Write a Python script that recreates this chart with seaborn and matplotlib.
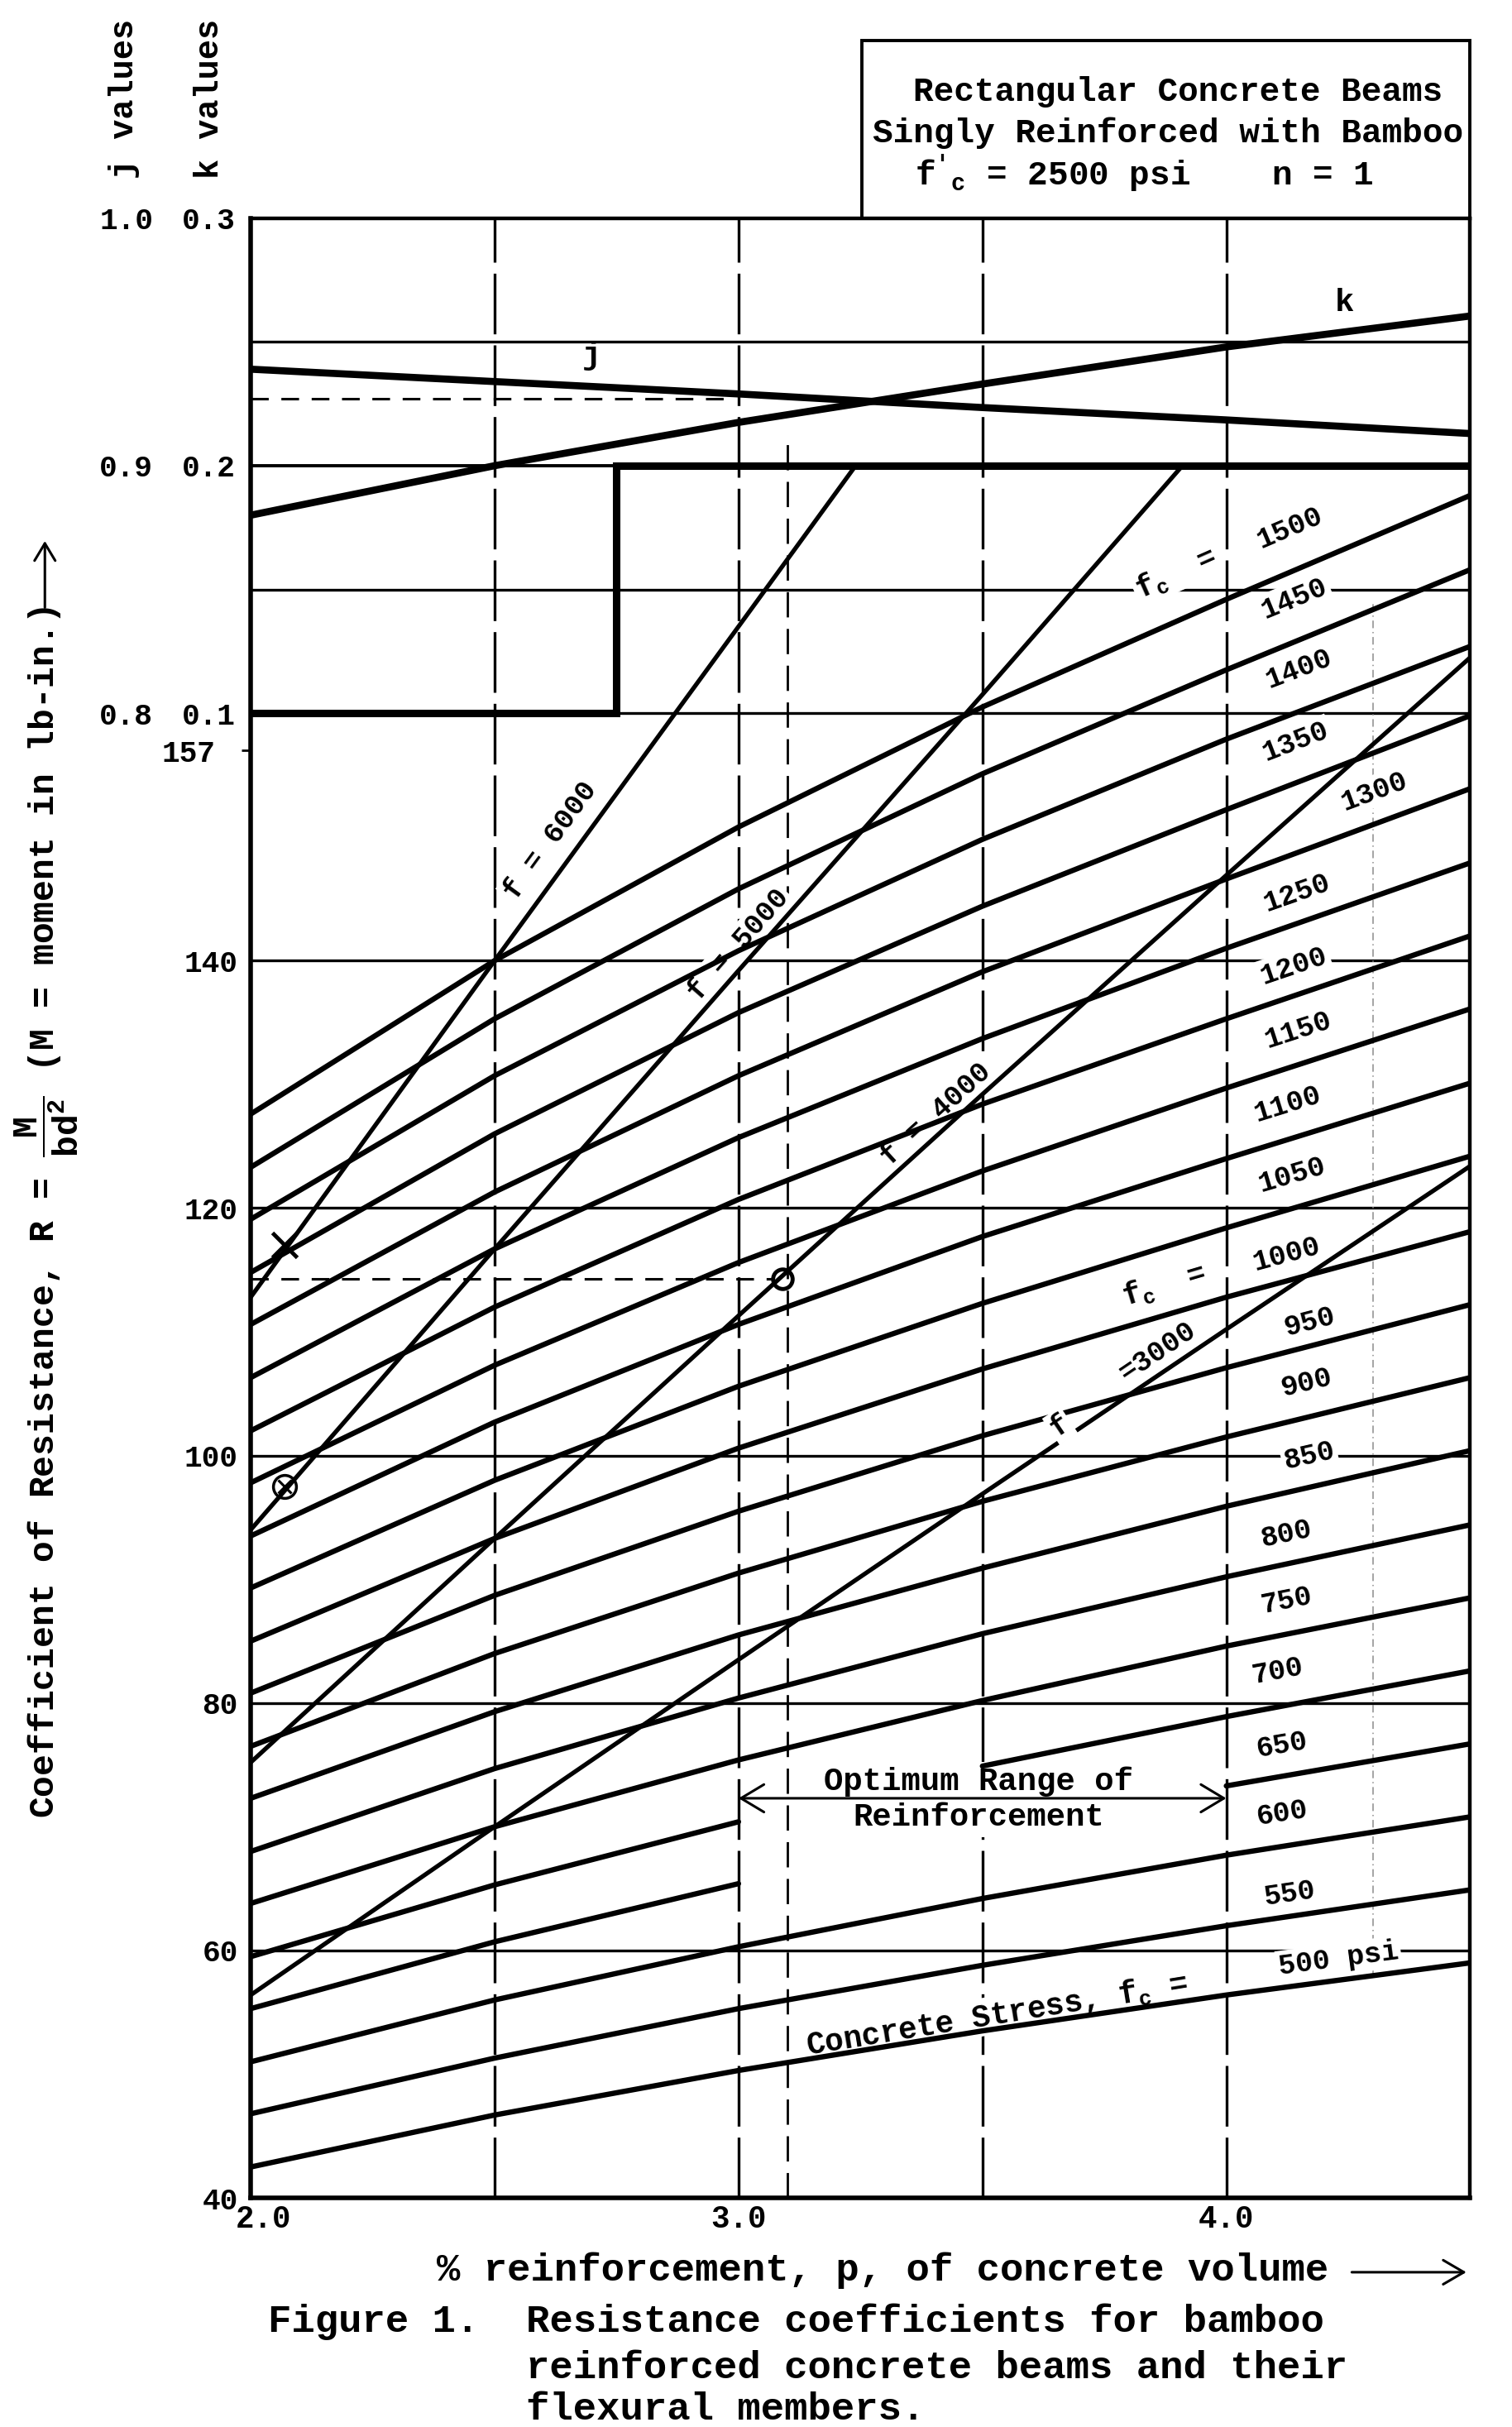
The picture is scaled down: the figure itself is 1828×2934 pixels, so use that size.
import numpy as np
import pandas as pd
import matplotlib
matplotlib.use("Agg")
import matplotlib.pyplot as plt
import matplotlib.transforms as mtransforms
from matplotlib.patches import Rectangle, FancyArrowPatch
import seaborn as sns

sns.set_theme(style="white")
plt.rcParams["font.family"] = ["Liberation Mono", "DejaVu Sans"]
plt.rcParams.update({
    "font.weight": "bold",
    "mathtext.fontset": "custom",
    "mathtext.rm": "Liberation Mono:bold",
    "mathtext.it": "Liberation Mono:bold:italic",
    "mathtext.bf": "Liberation Mono:bold",
    "mathtext.fallback": "stix",
    "text.color": "black", "axes.edgecolor": "black",
    "xtick.color": "black", "ytick.color": "black",
})

# ---------------- values ----------------
p_pts = [2.0, 2.5, 3.0, 3.5, 4.0, 4.5]            # % reinforcement

fc_levels = [500, 550, 600, 650, 700, 750, 800, 850, 900, 950, 1000,
             1050, 1100, 1150, 1200, 1250, 1300, 1350, 1400, 1450, 1500]
R_fc = [
    [42.5, 46.7, 50.3, 53.5, 56.4, 59.0],
    [46.8, 51.3, 55.3, 58.8, 62.0, 64.9],
    [51.0, 56.0, 60.3, 64.2, 67.7, 70.8],
    [55.3, 60.7, 65.4, 69.5, 73.3, 76.7],
    [59.5, 65.3, 70.4, 74.9, 78.9, 82.6],
    [63.8, 70.0, 75.4, 80.2, 84.6, 88.5],
    [68.0, 74.7, 80.4, 85.6, 90.2, 94.4],
    [72.3, 79.3, 85.5, 90.9, 95.9, 100.4],
    [76.5, 84.0, 90.5, 96.3, 101.5, 106.3],
    [80.8, 88.7, 95.5, 101.6, 107.1, 112.2],
    [85.0, 93.3, 100.6, 107.0, 112.8, 118.1],
    [89.3, 98.0, 105.6, 112.3, 118.4, 124.2],
    [93.5, 102.7, 110.6, 117.7, 124.0, 130.1],
    [97.8, 107.3, 115.6, 123.0, 129.7, 136.1],
    [102.0, 112.0, 120.7, 128.4, 135.3, 142.0],
    [106.3, 116.7, 125.7, 133.7, 141.0, 147.9],
    [110.6, 121.3, 130.7, 139.1, 146.6, 153.9],
    [114.8, 126.0, 135.8, 144.4, 152.2, 159.8],
    [119.1, 130.7, 140.8, 149.8, 157.9, 165.4],
    [123.3, 135.3, 145.8, 155.1, 163.5, 171.6],
    [127.6, 140.0, 150.8, 160.5, 169.2, 177.6],
]
# stretches of a curve left undrawn behind the "Optimum Range" note
fc_gaps = {650: (3.0, 4.0), 700: (3.0, 3.5)}

# bamboo stress lines f = 6000 ... 3000 psi
p_fs6000 = [2.0, 2.5, 3.0, 3.24]
R_fs6000 = [112.8, 140.0, 167.0, 180.0]
p_fs5000 = [2.0, 2.5, 3.0, 3.5, 3.91]
R_fs5000 = [94.0, 116.7, 139.2, 161.5, 180.0]
p_fs4000 = p_pts
R_fs4000 = [75.2, 93.3, 111.3, 129.2, 146.9, 164.5]
p_fs3000 = p_pts
R_fs3000 = [56.4, 70.0, 83.5, 96.9, 110.2, 123.4]

# k and j values
k_vals = [0.180, 0.200, 0.2175, 0.233, 0.248, 0.2605]
j_vals = [0.939, 0.934, 0.929, 0.9235, 0.9185, 0.913]

# hand-made marks on the chart
mark_x_p, mark_x_R = [2.07], [117.0]
mark_ox_p, mark_ox_R = [2.07], [97.5]
mark_o_p, mark_o_R = [3.09], [114.3]
read_R_p, read_R_val = [2.0, 3.07], [114.3, 114.3]
read_j_p, read_j_val = [2.0, 2.97], [185.4, 185.4]

R_ticks = [40, 60, 80, 100, 120, 140]
j_ticks = [0.8, 0.9, 1.0]
k_ticks = [0.1, 0.2, 0.3]
x_ticks = [2.0, 3.0, 4.0]

# ---------------- figure ----------------
fig = plt.figure(figsize=(18.28, 29.34), dpi=100)
fig.patch.set_facecolor("white")
L, R_ = 162 / 977, 950 / 977
B, T = 1 - 1420 / 1568, 1 - 141 / 1568
ax = fig.add_axes([L, B, R_ - L, T - B])
ax.set_facecolor("white")

GRID_LW = 2.4
# grid
ax.hlines([60, 80, 100, 120, 140, 170, 190], 2.0, 4.5, color="black", lw=GRID_LW, zorder=1)
ax.hlines([160], 2.75, 4.5, color="black", lw=GRID_LW, zorder=1)
ax.hlines([180], 2.0, 2.75, color="black", lw=2.8, zorder=1)
ax.plot([2.0, 2.75, 2.75, 4.5], [160, 160, 180, 180], color="black", lw=6.5,
        solid_joinstyle="miter", solid_capstyle="butt", zorder=1.5)
ax.vlines([2.5, 3.0, 3.5, 4.0], 40, 200, color="black", lw=GRID_LW,
          linestyles=[(0, (22, 4))], zorder=1)
ax.vlines([3.1], 40, 182.5, color="black", lw=2.0, linestyles=[(0, (11, 5))], zorder=1)
ax.vlines([4.3], 58, 169, color="0.55", lw=1.1, linestyles=[(0, (6, 3, 1, 3))], zorder=1)

# concrete stress curves
rows = []
for lvl, vals in zip(fc_levels, R_fc):
    gap = fc_gaps.get(lvl)
    for p, r in zip(p_pts, vals):
        seg = 0
        if gap is not None:
            if gap[0] < p < gap[1]:
                continue
            seg = 1 if p >= gap[1] else 0
        rows.append({"fc": lvl, "seg": f"{lvl}-{seg}", "p": p, "R": r})
df_fc = pd.DataFrame(rows)
sns.lineplot(data=df_fc, x="p", y="R", units="seg", estimator=None, color="black",
             linewidth=4.6, ax=ax, zorder=3, legend=False)

# bamboo stress lines
fs_rows = []
for name, ps, rs in [("6000", p_fs6000, R_fs6000), ("5000", p_fs5000, R_fs5000),
                     ("4000", p_fs4000, R_fs4000), ("3000", p_fs3000, R_fs3000)]:
    for p, r in zip(ps, rs):
        fs_rows.append({"fs": name, "p": p, "R": r})
df_fs = pd.DataFrame(fs_rows)
sns.lineplot(data=df_fs, x="p", y="R", units="fs", estimator=None, color="black",
             linewidth=3.8, ax=ax, zorder=3, legend=False)

# k and j on their own scales (0.1<->R160, 0.3<->R200 ; 0.8<->R160, 1.0<->R200)
axk = ax.twinx()
axj = ax.twinx()
sns.lineplot(x=p_pts, y=k_vals, ax=axk, color="black", linewidth=6.2)
sns.lineplot(x=p_pts, y=j_vals, ax=axj, color="black", linewidth=6.2)
axk.set_ylim(-0.5, 0.3)
axj.set_ylim(0.2, 1.0)
for a in (axk, axj):
    a.yaxis.tick_left()
    for s in a.spines.values():
        s.set_visible(False)
axk.set_yticks(k_ticks, labels=[f"{v:.1f}" for v in k_ticks])
axj.set_yticks(j_ticks, labels=[f"{v:.1f}" for v in j_ticks])
axk.tick_params(axis="y", length=0, pad=13, labelsize=26)
axj.tick_params(axis="y", length=0, pad=85, labelsize=26)

# marks
ax.plot(read_R_p, read_R_val, color="black", lw=2.2, ls=(0, (7, 5)), zorder=2.5)
ax.plot(read_j_p, read_j_val, color="black", lw=2.2, ls=(0, (7, 5)), zorder=2.5)
ax.plot(mark_x_p, mark_x_R, ls="none", marker="x", ms=22, mew=3.5, color="black", zorder=5)
ax.plot(mark_ox_p, mark_ox_R, ls="none", marker="o", ms=20, mew=2.5, mfc="none", color="black", zorder=5)
ax.plot(mark_ox_p, mark_ox_R, ls="none", marker="x", ms=12, mew=2.2, color="black", zorder=5)
ax.plot(mark_o_p, mark_o_R, ls="none", marker="o", ms=17, mew=3.5, mfc="none", color="black", zorder=5)


def slope_at(xs, ys, x):
    xs = np.asarray(xs, float)
    ys = np.asarray(ys, float)
    i = int(np.clip(np.searchsorted(xs, x) - 1, 0, len(xs) - 2))
    return (ys[i + 1] - ys[i]) / (xs[i + 1] - xs[i])


WHITE = dict(boxstyle="square,pad=0.08", fc="white", ec="none")


def label(x, y, s, slope, size=25, z=2, box=True):
    ax.text(x, y, s, rotation=np.degrees(np.arctan(slope)), rotation_mode="anchor",
            transform_rotates_text=True, ha="center", va="center", fontsize=size,
            zorder=z, bbox=WHITE if box else None, color="black")


# fc labels
fc_label_p = [4.23, 4.13, 4.115, 4.115, 4.105, 4.123, 4.123, 4.17, 4.164, 4.17, 4.123,
              4.134, 4.126, 4.148, 4.139, 4.145, 4.304, 4.142, 4.148, 4.14, 4.13]
fc_label_R = [59.3, 64.6, 71.1, 76.6, 82.6, 88.3, 93.7, 100.0, 105.9, 110.8, 116.3,
              122.7, 128.4, 134.4, 139.6, 145.5, 153.7, 157.7, 163.6, 169.3, 175.0]
for lvl, vals, lp, lr in zip(fc_levels, R_fc, fc_label_p, fc_label_R):
    txt = "500 psi" if lvl == 500 else str(lvl)
    label(lp, lr, txt, slope_at(p_pts, vals, lp))

FC = r"$\mathrm{f}_{\mathrm{c}}$  ="
label(3.896, 171.3, FC, slope_at(p_pts, R_fc[-1], 3.9), size=26)
label(3.873, 113.8, FC, slope_at(p_pts, R_fc[10], 3.9), size=26)
label(3.53, 54.8, r"Concrete Stress, $\mathrm{f}_{\mathrm{c}}$ =", slope_at(p_pts, R_fc[0], 3.5), size=27)

# f labels
label(2.614, 149.7, "f = 6000", slope_at(p_fs6000, R_fs6000, 2.6))
label(3.0, 141.3, "f = 5000", slope_at(p_fs5000, R_fs5000, 3.0))
label(3.405, 127.6, "f = 4000", slope_at(p_fs4000, R_fs4000, 3.4))
label(3.659, 102.4, "f", slope_at(p_fs3000, R_fs3000, 3.66), z=4)
label(3.859, 108.4, "=3000", slope_at(p_fs3000, R_fs3000, 3.86))

ax.text(2.70, 188.9, "j", fontsize=28, ha="center", va="center", zorder=4)
ax.text(4.243, 193.2, "k", fontsize=28, ha="center", va="center", zorder=4)

# optimum range note
ax.text(3.492, 72.2, "Optimum Range of\nReinforcement", fontsize=28, ha="center", va="center",
        multialignment="center", linespacing=1.25, zorder=2,
        bbox=dict(boxstyle="square,pad=0.15", fc="white", ec="none"))
ax.annotate("", xy=(4.0, 72.3), xytext=(3.0, 72.3),
            arrowprops=dict(arrowstyle="<->,head_length=0.5,head_width=0.3", lw=2.2,
                            color="black", shrinkA=0, shrinkB=0, mutation_scale=40),
            zorder=5)

# axes, ticks, spines
ax.set_xlim(2.0, 4.5)
ax.set_ylim(40, 200)
ax.set_xlabel("")
ax.set_ylabel("")
ax.set_xticks(x_ticks, labels=[f"{v:.1f}" for v in x_ticks])
ax.tick_params(axis="x", length=0, pad=6, labelsize=27)
first = ax.get_xticklabels()[0]
first.set_transform(first.get_transform() +
                    mtransforms.ScaledTranslation(0.15, 0, fig.dpi_scale_trans))
ax.set_yticks(R_ticks, labels=[str(v) for v in R_ticks])
ax.set_yticks([157], labels=["157"], minor=True)
ax.tick_params(axis="y", which="major", length=0, pad=11, labelsize=26)
ax.tick_params(axis="y", which="minor", length=7.7, width=2, direction="out",
               pad=23, labelsize=26, left=True)
for side, lw in [("left", 4.0), ("bottom", 4.0), ("right", 3.2), ("top", 3.2)]:
    ax.spines[side].set_linewidth(lw)
    ax.spines[side].set_color("black")
    ax.spines[side].set_zorder(6)

# title box
bx0, bx1 = 557 / 977, R_
by0, by1 = T, 1 - 26 / 1568
fig.add_artist(Rectangle((bx0, by0), bx1 - bx0, by1 - by0, transform=fig.transFigure,
                         fill=False, lw=2.8, ec="black"))
fig.text(590 / 977, 1 - 65 / 1568, "Rectangular Concrete Beams", fontsize=29.5, va="baseline")
fig.text(564 / 977, 1 - 91.7 / 1568, "Singly Reinforced with Bamboo", fontsize=29.5, va="baseline")
fig.text(591 / 977, 1 - 119.9 / 1568,
         r"$\mathrm{f}'_{\mathrm{c}}$ = 2500 psi    n = 1", fontsize=29.5, va="baseline")

# side headings
fig.text(80 / 977, 1 - 64 / 1568, "j values", rotation=90, fontsize=29, ha="center", va="center")
fig.text(135 / 977, 1 - 64 / 1568, "k values", rotation=90, fontsize=29, ha="center", va="center")

# axis titles
fig.text(30 / 977, 1 - 783 / 1568,
         r"Coefficient of Resistance, R = $\dfrac{\mathrm{M}}{\mathrm{bd}^{2}}$ (M = moment in lb-in.)",
         rotation=90, fontsize=31, ha="center", va="center")
fig.add_artist(FancyArrowPatch((29 / 977, 1 - 394 / 1568), (29 / 977, 1 - 348 / 1568),
                               transform=fig.transFigure, arrowstyle="->,head_length=0.5,head_width=0.3",
                               mutation_scale=30, lw=2.2, color="black"))
fig.text(282 / 977, 1 - 1467 / 1568, "% reinforcement, p, of concrete volume",
         fontsize=34, ha="left", va="center")
fig.add_artist(FancyArrowPatch((872 / 977, 1 - 1468 / 1568), (949 / 977, 1 - 1468 / 1568),
                               transform=fig.transFigure, arrowstyle="->,head_length=0.6,head_width=0.35",
                               mutation_scale=30, lw=2.2, color="black"))

# caption
fig.text(173 / 977, 1 - 1500 / 1568, "Figure 1.  Resistance coefficients for bamboo",
         fontsize=34, ha="left", va="center")
fig.text(340 / 977, 1 - 1530 / 1568, "reinforced concrete beams and their",
         fontsize=34, ha="left", va="center")
fig.text(340 / 977, 1 - 1557 / 1568, "flexural members.",
         fontsize=34, ha="left", va="center")

fig.savefig("out.png", dpi=100, facecolor="white")
